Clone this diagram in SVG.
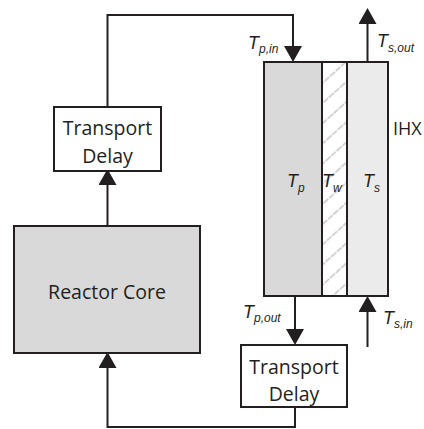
<svg xmlns="http://www.w3.org/2000/svg" width="424" height="429" viewBox="0 0 424 429">
<style>
.box{stroke:#231f20;stroke-width:2}
.w{fill:#ffffff}
.g{fill:#d9d9d9}
.lg{fill:#ebebeb}
.lbl{font-family:"Open Sans","Liberation Sans",Arial,sans-serif;font-size:19.5px;fill:#231f20}
.var{font-family:"Liberation Sans",Arial,sans-serif;font-style:italic;font-size:18px;fill:#231f20}
.sub{font-size:12px}
.conn{fill:none;stroke:#231f20;stroke-width:2}
</style>
<defs>
<marker id="ah" viewBox="0 0 16 18" refX="0" refY="9" markerWidth="16" markerHeight="18" markerUnits="userSpaceOnUse" orient="auto">
<path d="M0,0 L16,9 L0,18 z" fill="#231f20"/>
</marker>
<pattern id="hatch" patternUnits="userSpaceOnUse" width="15" height="15" patternTransform="rotate(-42)">
<rect width="15" height="15" fill="#ffffff"/>
<line x1="0" y1="7.5" x2="15" y2="7.5" stroke="#c4c4c4" stroke-width="1.6" stroke-dasharray="6 1"/>
</pattern>
</defs>

<g id="connectors">
<path class="conn" d="M107.5,107 V15 H293 V46" marker-end="url(#ah)"/>
<path class="conn" d="M107.5,226 V185" marker-end="url(#ah)"/>
<path class="conn" d="M295,407 V427 H107.5 V368" marker-end="url(#ah)"/>
<path class="conn" d="M295,296 V329" marker-end="url(#ah)"/>
<path class="conn" d="M367.5,347 V312" marker-end="url(#ah)"/>
<path class="conn" d="M367.5,62 V24" marker-end="url(#ah)"/>
</g>

<g id="transport-delay-1">
<rect class="box w" x="54" y="107" width="107" height="64"/>
<text class="lbl" x="107.5" y="135" text-anchor="middle">Transport</text>
<text class="lbl" x="107.5" y="163" text-anchor="middle">Delay</text>
</g>

<g id="reactor-core">
<rect class="box g" x="14" y="226" width="186" height="127"/>
<text class="lbl" x="107" y="299" text-anchor="middle">Reactor Core</text>
</g>

<g id="transport-delay-2">
<rect class="box w" x="241" y="345" width="106" height="62"/>
<text class="lbl" x="294" y="374" text-anchor="middle">Transport</text>
<text class="lbl" x="294" y="401" text-anchor="middle">Delay</text>
</g>

<g id="ihx">
<rect class="g" x="264" y="62" width="58" height="234"/>
<rect x="322" y="62" width="25" height="234" fill="url(#hatch)"/>
<rect class="lg" x="347" y="62" width="41" height="234"/>
<rect x="264" y="62" width="124" height="234" fill="none" stroke="#231f20" stroke-width="2"/>
<line x1="322" y1="62" x2="322" y2="296" stroke="#231f20" stroke-width="2"/>
<line x1="347" y1="62" x2="347" y2="296" stroke="#231f20" stroke-width="2"/>
<text class="var" x="287" y="187">T<tspan class="sub" dy="5">p</tspan></text>
<text class="var" x="322" y="187">T<tspan class="sub" dy="5">w</tspan></text>
<text class="var" x="363" y="187">T<tspan class="sub" dy="5">s</tspan></text>
<text class="lbl" x="393" y="135" style="font-size:18px">IHX</text>
</g>

<g id="labels">
<text class="var" x="248" y="49">T<tspan class="sub" dy="4">p,in</tspan></text>
<text class="var" x="377" y="47">T<tspan class="sub" dy="5">s,out</tspan></text>
<text class="var" x="243" y="318">T<tspan class="sub" dy="4">p,out</tspan></text>
<text class="var" x="383" y="324">T<tspan class="sub" dy="4">s,in</tspan></text>
</g>
</svg>
